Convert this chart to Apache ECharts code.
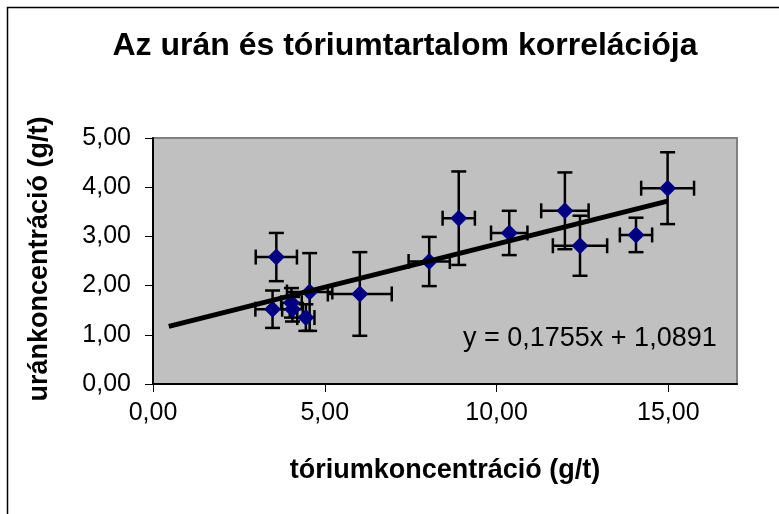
<!DOCTYPE html>
<html><head><meta charset="utf-8">
<script src="https://cdn.jsdelivr.net/npm/echarts@6/dist/echarts.min.js"></script>
<style>html,body{margin:0;padding:0;background:#fff}#c{width:779px;height:514px}</style>
</head><body><div id="c"></div>
<script>
// Data
const thorium    = [3.59, 3.48, 4.03, 4.06, 4.45, 4.56, 6.02, 8.04, 8.90, 10.37, 11.99, 12.43, 14.06, 14.98];
const uranium    = [2.58, 1.52, 1.65, 1.52, 1.35, 1.87, 1.83, 2.49, 3.37, 3.07, 3.52, 2.81, 3.03, 3.98];
const thoriumErr = [0.60, 0.50, 0.30, 0.30, 0.25, 0.66, 0.93, 0.60, 0.47, 0.53, 0.69, 0.79, 0.47, 0.77];
const uraniumErr = [0.49, 0.38, 0.30, 0.25, 0.27, 0.79, 0.85, 0.50, 0.95, 0.45, 0.78, 0.61, 0.35, 0.73];
const xTicks = [0, 5, 10, 15];
const yTicks = [0, 1, 2, 3, 4, 5];
const trendSlope = 0.1755, trendIntercept = 1.0891;
const trendXRange = [0.46, 14.98];
const titleText = 'Az urán és tóriumtartalom korrelációja';
const xName = 'tóriumkoncentráció (g/t)';
const yName = 'uránkoncentráció (g/t)';
const eqText = 'y = 0,1755x + 1,0891';

const FONT = '"Liberation Sans", Arial, sans-serif';
const fmt = v => v.toFixed(2).replace('.', ',');

const points = thorium.map((x, i) => [x, uranium[i], thoriumErr[i], uraniumErr[i]]);
const trend = trendXRange.map(x => [x, trendSlope * x + trendIntercept]);

const chart = echarts.init(document.getElementById('c'));
const CAP = 7.5;
chart.setOption({
  animation: false,
  backgroundColor: '#fff',
  grid: { left: 153, top: 138, width: 584, height: 246, show: true,
          backgroundColor: '#C0C0C0', borderColor: '#808080', borderWidth: 2 },
  xAxis: {
    type: 'value', min: 0, max: 17, interval: 5,
    axisLine: { show: true, onZero: false, lineStyle: { color: '#000', width: 2 } },
    axisTick: { show: true, length: 8, customValues: xTicks, lineStyle: { color: '#000', width: 1 } },
    axisLabel: { customValues: xTicks, formatter: fmt, color: '#000', fontSize: 25, fontFamily: FONT, margin: 17 },
    splitLine: { show: false }
  },
  yAxis: {
    type: 'value', min: 0, max: 5, interval: 1,
    axisLine: { show: true, onZero: false, lineStyle: { color: '#000', width: 2 } },
    axisTick: { show: true, length: 8, customValues: yTicks, lineStyle: { color: '#000', width: 1 } },
    axisLabel: { customValues: yTicks, formatter: fmt, color: '#000', fontSize: 25, fontFamily: FONT, margin: 22 },
    splitLine: { show: false }
  },
  graphic: [
    { type: 'rect', shape: { x: 7.5, y: 7.5, width: 800, height: 600 }, style: { fill: 'none', stroke: '#000', lineWidth: 1.5 }, z: -10, silent: true },
    { type: 'text', x: 405, y: 46, style: { text: titleText, font: 'bold 32px ' + FONT, fill: '#000', align: 'center', verticalAlign: 'middle' } },
    { type: 'text', x: 445, y: 471, style: { text: xName, font: 'bold 27px ' + FONT, fill: '#000', align: 'center', verticalAlign: 'middle' } },
    { type: 'text', x: 40, y: 259, rotation: Math.PI / 2, style: { text: yName, font: 'bold 27px ' + FONT, fill: '#000', align: 'center', verticalAlign: 'middle' } },
    { type: 'text', x: 463, y: 339, z: 50, style: { text: eqText, font: '27px ' + FONT, fill: '#000', align: 'left', verticalAlign: 'middle' } }
  ],
  series: [
    {
      type: 'custom', z: 2,
      data: points,
      renderItem: function (params, api) {
        const x = api.value(0), y = api.value(1), xe = api.value(2), ye = api.value(3);
        const top = api.coord([x, y + ye]), bot = api.coord([x, y - ye]);
        const lft = api.coord([x - xe, y]), rgt = api.coord([x + xe, y]);
        const st = { stroke: '#000', lineWidth: 2.5 };
        const L = (x1, y1, x2, y2) => ({ type: 'line', shape: { x1, y1, x2, y2 }, style: st });
        return { type: 'group', children: [
          L(top[0], top[1], bot[0], bot[1]),
          L(top[0] - CAP, top[1], top[0] + CAP, top[1]),
          L(bot[0] - CAP, bot[1], bot[0] + CAP, bot[1]),
          L(lft[0], lft[1], rgt[0], rgt[1]),
          L(lft[0], lft[1] - CAP, lft[0], lft[1] + CAP),
          L(rgt[0], rgt[1] - CAP, rgt[0], rgt[1] + CAP)
        ]};
      }
    },
    {
      type: 'scatter', z: 3, data: points.map(p => [p[0], p[1]]),
      symbol: 'diamond', symbolSize: 17,
      itemStyle: { color: '#000080', opacity: 1 }
    },
    {
      type: 'line', z: 4, data: trend, symbol: 'none',
      lineStyle: { color: '#000', width: 5, cap: 'butt' }
    }
  ]
});
</script>
</body></html>
